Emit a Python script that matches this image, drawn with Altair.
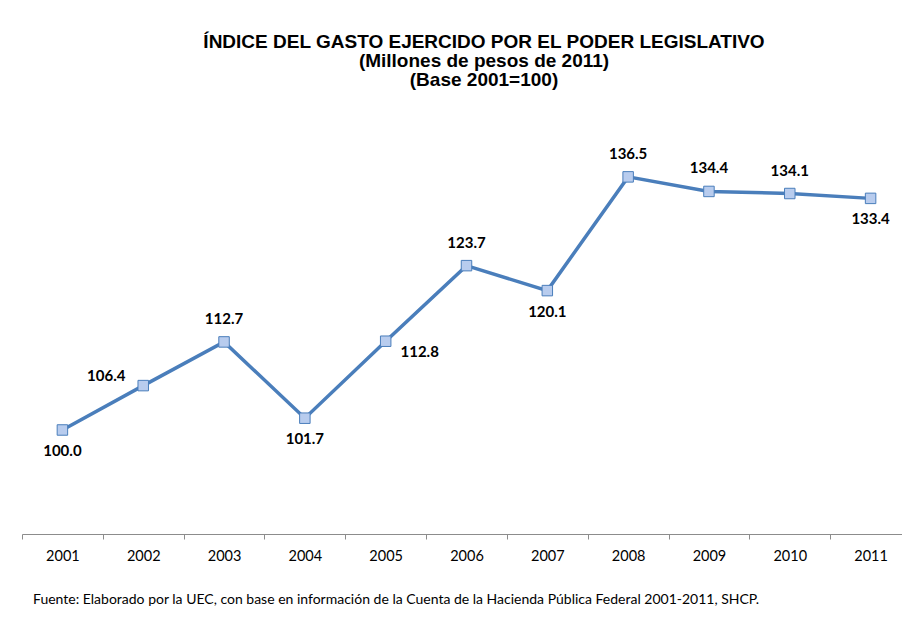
import altair as alt
import pandas as pd

years = ["2001", "2002", "2003", "2004", "2005", "2006", "2007", "2008", "2009", "2010", "2011"]
values = [100.0, 106.4, 112.7, 101.7, 112.8, 123.7, 120.1, 136.5, 134.4, 134.1, 133.4]

title_lines = ["ÍNDICE DEL GASTO EJERCIDO POR EL PODER LEGISLATIVO",
               "(Millones de pesos de 2011)",
               "(Base 2001=100)"]
footnote = "Fuente: Elaborado por la UEC, con base en información de la Cuenta  de la Hacienda Pública Federal  2001-2011, SHCP."

df = pd.DataFrame({"year": years, "value": values, "label": [f"{v:.1f}" for v in values]})

above = ["2003", "2006", "2008", "2009", "2010"]
below = ["2001", "2004", "2007", "2011"]
left_up = ["2002"]
right_down = ["2005"]

BLUE = "#4A7EBB"

x = alt.X("year:N", title=None,
          scale=alt.Scale(type="band", paddingInner=0, paddingOuter=0, range=[0, 889]),
          axis=alt.Axis(tickBand="extent", labelAngle=0, labelFont="Lato", labelFontSize=14.5,
                        labelColor="#000000", labelPadding=10, domainColor="#8C8C8C",
                        tickColor="#8C8C8C", tickSize=5, domainWidth=1))
y = alt.Y("value:Q", title=None, scale=alt.Scale(domain=[85, 146], nice=False, zero=False),
          axis=None)

base = alt.Chart(df).encode(x=x, y=y)

line = base.mark_line(color=BLUE, strokeWidth=3.5)
pts = base.mark_point(shape="square", size=110, filled=True, fill="#B8CCEE",
                      stroke=BLUE, strokeWidth=1, opacity=1)

def lbl(sel, dx, dy):
    return base.transform_filter(alt.FieldOneOfPredicate(field="year", oneOf=sel)).mark_text(
        font="Lato", fontSize=15, fontWeight="bold", color="#000000", dx=dx, dy=dy
    ).encode(text="label:N")

t_above = lbl(above, 0, -23)
t_below = lbl(below, 0, 21)
t_left = lbl(left_up, -37, -10)
t_right = lbl(right_down, 34, 11)

foot = alt.Chart(pd.DataFrame({"t": [footnote]})).mark_text(
    font="Lato", fontSize=14, color="#000000", align="left", baseline="middle"
).encode(x=alt.value(11), y=alt.value(489), text="t:N")

chart = alt.layer(line, pts, t_above, t_below, t_left, t_right, foot).properties(
    width=880, height=423,
    background="#FFFFFF",
    autosize=alt.AutoSizeParams(type="none"),
    padding={"left": 14, "top": 103, "right": 0, "bottom": 80},
    title=alt.TitleParams(text=title_lines, font="Liberation Sans", fontSize=19,
                          fontWeight="bold", color="#000000", lineHeight=19,
                          anchor="middle", dx=22, offset=21)
).configure_view(stroke=None)

chart.save("out.html", embed_options={"renderer": "svg", "actions": False})
